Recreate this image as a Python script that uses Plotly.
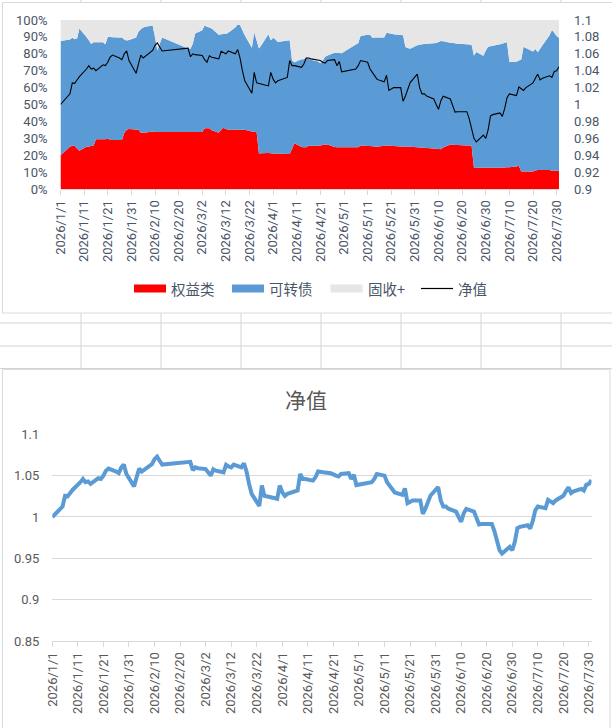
import plotly.graph_objects as go
import pandas as pd

W, H = 612, 728

dates = [
    "2026-01-01", "2026-01-05", "2026-01-06", "2026-01-07", "2026-01-08", "2026-01-09",
    "2026-01-12", "2026-01-13", "2026-01-14", "2026-01-15", "2026-01-16",
    "2026-01-19", "2026-01-20", "2026-01-21", "2026-01-22", "2026-01-23",
    "2026-01-26", "2026-01-27", "2026-01-28", "2026-01-29", "2026-01-30",
    "2026-02-02", "2026-02-03", "2026-02-04", "2026-02-05", "2026-02-06",
    "2026-02-09", "2026-02-10", "2026-02-11", "2026-02-12", "2026-02-13",
    "2026-02-24", "2026-02-25", "2026-02-26", "2026-02-27",
    "2026-03-02", "2026-03-03", "2026-03-04", "2026-03-05", "2026-03-06",
    "2026-03-09", "2026-03-10", "2026-03-11", "2026-03-12", "2026-03-13",
    "2026-03-16", "2026-03-17", "2026-03-18", "2026-03-19", "2026-03-20",
    "2026-03-23", "2026-03-24", "2026-03-25", "2026-03-26", "2026-03-27",
    "2026-03-30", "2026-03-31", "2026-04-01", "2026-04-02", "2026-04-03",
    "2026-04-07", "2026-04-08", "2026-04-09", "2026-04-10",
    "2026-04-13", "2026-04-14", "2026-04-15", "2026-04-16", "2026-04-17",
    "2026-04-20", "2026-04-21", "2026-04-22", "2026-04-23", "2026-04-24",
    "2026-04-27", "2026-04-28", "2026-04-29", "2026-04-30",
    "2026-05-06", "2026-05-07", "2026-05-08",
    "2026-05-11", "2026-05-12", "2026-05-13", "2026-05-14", "2026-05-15",
    "2026-05-18", "2026-05-19", "2026-05-20", "2026-05-21", "2026-05-22",
    "2026-05-25", "2026-05-26", "2026-05-27", "2026-05-28", "2026-05-29",
    "2026-06-01", "2026-06-02", "2026-06-03", "2026-06-04", "2026-06-05",
    "2026-06-08", "2026-06-09", "2026-06-10", "2026-06-11", "2026-06-12",
    "2026-06-15", "2026-06-16", "2026-06-17", "2026-06-18",
    "2026-06-22", "2026-06-23", "2026-06-24", "2026-06-25", "2026-06-26",
    "2026-06-29", "2026-06-30", "2026-07-01", "2026-07-02", "2026-07-03",
    "2026-07-06", "2026-07-07", "2026-07-08", "2026-07-09", "2026-07-10",
    "2026-07-13", "2026-07-14", "2026-07-15", "2026-07-16", "2026-07-17",
    "2026-07-20", "2026-07-21", "2026-07-22", "2026-07-23", "2026-07-24",
    "2026-07-27", "2026-07-28", "2026-07-29", "2026-07-30", "2026-07-31",
]

nav = [
    1.000, 1.0126, 1.0256, 1.025, 1.029, 1.033,
    1.042, 1.046, 1.042, 1.043, 1.040,
    1.047, 1.046, 1.050, 1.056, 1.0585,
    1.055, 1.053, 1.060, 1.0634, 1.052,
    1.037, 1.048, 1.0585, 1.055, 1.057,
    1.064, 1.070, 1.073, 1.068, 1.0634,
    1.0667, 1.0565, 1.060, 1.059,
    1.058, 1.053, 1.050, 1.0577, 1.056,
    1.054, 1.063, 1.061, 1.060, 1.0634,
    1.060, 1.065, 1.055, 1.040, 1.028,
    1.0134, 1.038, 1.0256, 1.025, 1.024,
    1.022, 1.038, 1.030, 1.0256, 1.028,
    1.032, 1.052, 1.046, 1.046,
    1.044, 1.048, 1.055, 1.055, 1.054,
    1.0528, 1.052, 1.050, 1.049, 1.052,
    1.053, 1.046, 1.051, 1.0386,
    1.042, 1.046, 1.052,
    1.050, 1.042, 1.038, 1.033, 1.0297,
    1.0268, 1.0346, 1.0167, 1.018, 1.020,
    1.020, 1.0037, 1.010, 1.018, 1.026,
    1.036, 1.020, 1.0126, 1.0126, 1.010,
    1.0065, 1.000, 0.9943, 1.0045, 1.0098,
    1.0065, 0.998, 0.991, 0.9915,
    0.9915, 0.983, 0.970, 0.960, 0.9557,
    0.9638, 0.9598, 0.970, 0.9866, 0.988,
    0.990, 0.986, 0.995, 1.008, 1.0126,
    1.0106, 1.0207, 1.019, 1.0167, 1.020,
    1.0256, 1.031, 1.036, 1.029, 1.031,
    1.034, 1.032, 1.039, 1.040, 1.0447,
]

equity = [
    20, 25, 25.6, 25.4, 24, 22.7,
    25, 25.2, 25.4, 25.6, 29.4,
    29.4, 29.4, 30, 29, 29,
    29, 29, 33.3, 35, 35.5,
    35.2, 35, 33.3, 33.3, 33.4,
    34, 33.8, 33.7, 33.7, 33.7,
    33.7, 33.7, 33.7, 33.7,
    33.7, 36, 36, 36, 34.8,
    33.3, 35, 36.3, 35.5, 35,
    35, 35, 35, 35, 35,
    34, 33.8, 33.7, 21, 21.1,
    21.3, 21.2, 21, 21, 21,
    20.7, 20.7, 23.7, 27,
    24.8, 24.7, 24.7, 25.6, 25.6,
    25.6, 25.8, 26, 26.3, 26.4,
    24.8, 24.7, 24.7, 24.7,
    24.7, 24.7, 25.8,
    25.5, 25.4, 25.3, 25.1, 25,
    25.6, 25.8, 25.7, 25.6, 25.5,
    25.2, 25.1, 25.1, 25, 25,
    24.7, 24.6, 24.5, 24.4, 24.3,
    24, 23.8, 23.7, 23.5, 24.5,
    26.4, 26.3, 26.1, 26,
    25.8, 25.7, 25.6, 12.6, 12.6,
    12.6, 12.6, 12.6, 12.6, 12.6,
    12.6, 12.7, 12.7, 12.8, 12.8,
    13.3, 13.8, 10.3, 10.3, 10.3,
    10.3, 11, 11.2, 11.2, 11.2,
    11.2, 10.8, 10.8, 10.8, 10.8,
]

conv_bond = [
    67.6, 63.5, 63.9, 63.2, 65, 72.3,
    65, 62.8, 60.4, 61.2, 57.4,
    57.4, 56.2, 60, 61, 60.8,
    60.7, 60.7, 55.2, 52.8, 52.7,
    54.5, 58, 61.2, 62.2, 62.6,
    62.8, 56.2, 48.3, 52.3, 56,
    49.5, 49.3, 52.3, 58.3,
    60.3, 60.8, 60, 59.5, 60.2,
    58, 56.5, 55.4, 56.2, 57.5,
    60.5, 62.4, 62, 59, 56,
    49.6, 58.9, 54.3, 62.2, 63.9,
    70.2, 66.8, 68.5, 67.5, 66,
    67.1, 67.3, 52.3, 48,
    52, 52.1, 53.3, 51.4, 50.9,
    49.9, 48.6, 50, 52, 52.6,
    55.8, 55.8, 55.7, 55.6,
    60.8, 61.6, 64.7,
    65.7, 65.9, 64.2, 64.5, 64.6,
    64.1, 66.7, 66.5, 66.2, 66,
    65.9, 65.9, 58.9, 58.5, 58,
    60.3, 60.8, 61.1, 61.4, 61.7,
    62.3, 62.6, 63.3, 64.1, 62.9,
    60.1, 60.1, 60.1, 60,
    59.9, 59.8, 59.8, 66.4, 68.4,
    66.3, 69.4, 71.6, 71.9, 72.2,
    73, 73.3, 73.8, 74, 62.5,
    62, 62.2, 66.4, 73.9, 73.1,
    71, 71.8, 69.7, 71.8, 73.8,
    79.8, 83.3, 81.7, 79.7, 78.7,
]

fixed_plus = [
    12.4, 11.5, 10.5, 11.4, 11, 5,
    10, 12, 14.2, 13.2, 13.2,
    13.2, 14.4, 10, 10, 10.2,
    10.3, 10.3, 11.5, 12.2, 11.8,
    10.3, 7, 5.5, 4.5, 4,
    3.2, 10, 18, 14, 10.3,
    16.8, 17, 14, 8,
    6, 3.2, 4, 4.5, 5,
    8.7, 8.5, 8.3, 8.3, 7.5,
    4.5, 2.6, 3, 6, 9,
    16.4, 7.3, 12, 16.8, 15,
    8.5, 12, 10.5, 11.5, 13,
    12.2, 12, 24, 25,
    23.2, 23.2, 22, 23, 23.5,
    24.5, 25.6, 24, 21.7, 21,
    19.4, 19.5, 19.6, 19.7,
    14.5, 13.7, 9.5,
    8.8, 8.7, 10.5, 10.4, 10.4,
    10.3, 7.5, 7.8, 8.2, 8.5,
    8.9, 9, 16, 16.5, 17,
    15, 14.6, 14.4, 14.2, 14,
    13.7, 13.6, 13, 12.4, 12.6,
    13.5, 13.6, 13.8, 14,
    14.3, 14.5, 14.6, 21, 19,
    21.1, 18, 15.8, 15.5, 15.2,
    14.4, 14, 13.5, 13.2, 24.7,
    24.7, 24, 23.3, 15.8, 16.6,
    18.7, 17.2, 19.1, 17, 15,
    9, 5.9, 7.5, 9.5, 10.5,
]

assert len(dates) == len(nav) == len(equity) == len(conv_bond) == len(fixed_plus)

series_names = ["权益类", "可转债", "固收+", "净值"]
series_colors = ["#FF0000", "#5B9BD5", "#E7E6E6", "#000000"]

date_tick_labels = [
    "2026/1/1", "2026/1/11", "2026/1/21", "2026/1/31", "2026/2/10", "2026/2/20",
    "2026/3/2", "2026/3/12", "2026/3/22", "2026/4/1", "2026/4/11", "2026/4/21",
    "2026/5/1", "2026/5/11", "2026/5/21", "2026/5/31", "2026/6/10", "2026/6/20",
    "2026/6/30", "2026/7/10", "2026/7/20", "2026/7/30",
]
date_tick_vals = [pd.to_datetime(s, format="%Y/%m/%d").strftime("%Y-%m-%d") for s in date_tick_labels]

pct_ticks = [0, 10, 20, 30, 40, 50, 60, 70, 80, 90, 100]
pct_labels = ["0%", "10%", "20%", "30%", "40%", "50%", "60%", "70%", "80%", "90%", "100%"]
nav_ticks_top = [0.9, 0.92, 0.94, 0.96, 0.98, 1.0, 1.02, 1.04, 1.06, 1.08, 1.1]
nav_labels_top = ["0.9", "0.92", "0.94", "0.96", "0.98", "1", "1.02", "1.04", "1.06", "1.08", "1.1"]
nav_ticks_bot = [0.85, 0.9, 0.95, 1.0, 1.05, 1.1]
nav_labels_bot = ["0.85", "0.9", "0.95", "1", "1.05", "1.1"]

CJK = "Noto Sans CJK SC, Noto Sans, sans-serif"
NUM = "Roboto, Noto Sans, sans-serif"
TOP_TXT = "#4A5568"
BOT_TXT = "#595959"
GRID = "#D9D9D9"


def px(x):
    return x / W


def py(y):
    return 1 - y / H


fig = go.Figure()

for vals, name, col in zip([equity, conv_bond, fixed_plus], series_names[:3], series_colors[:3]):
    fig.add_trace(go.Scatter(
        x=dates, y=vals, name=name, stackgroup="alloc", mode="none",
        fillcolor=col, xaxis="x", yaxis="y", showlegend=False,
    ))

fig.add_trace(go.Scatter(
    x=dates, y=nav, name=series_names[3], mode="lines",
    line=dict(color=series_colors[3], width=1.1), xaxis="x", yaxis="y2", showlegend=False,
))

fig.add_trace(go.Scatter(
    x=dates, y=nav, name="净值", mode="lines",
    line=dict(color="#5B9BD5", width=4), xaxis="x2", yaxis="y3", showlegend=False,
))

xrange_ = ["2026-01-01", "2026-07-31"]

fig.update_layout(
    width=W, height=H, autosize=False,
    margin=dict(l=0, r=0, t=0, b=0),
    paper_bgcolor="white", plot_bgcolor="rgba(0,0,0,0)",
    font=dict(family=NUM, size=13, color=TOP_TXT),
    xaxis=dict(
        type="date", domain=[px(60.5), px(559)], range=xrange_, anchor="y",
        tickmode="array", tickvals=date_tick_vals, ticktext=date_tick_labels,
        tickangle=-90, ticks="outside", ticklen=5, tickcolor=GRID,
        showline=True, linecolor=GRID, showgrid=False, zeroline=False,
        tickfont=dict(family=NUM, size=13, color=TOP_TXT), automargin=False,
    ),
    yaxis=dict(
        domain=[py(189), py(20)], range=[0, 100], anchor="x",
        tickmode="array", tickvals=pct_ticks, ticktext=pct_labels,
        showgrid=False, zeroline=False, showline=False, ticks="",
        ticklabelstandoff=12, tickfont=dict(family=NUM, size=13, color=TOP_TXT), automargin=False,
    ),
    yaxis2=dict(
        overlaying="y", side="right", range=[0.9, 1.1], anchor="x",
        tickmode="array", tickvals=nav_ticks_top, ticktext=nav_labels_top,
        showgrid=False, zeroline=False, showline=False, ticks="",
        ticklabelstandoff=14, tickfont=dict(family=NUM, size=13, color=TOP_TXT), automargin=False,
    ),
    xaxis2=dict(
        type="date", domain=[px(52.3), px(591.5)], range=xrange_, anchor="y3",
        tickmode="array", tickvals=date_tick_vals, ticktext=date_tick_labels,
        tickangle=-90, ticks="outside", ticklen=5, tickcolor=GRID,
        showline=True, linecolor=GRID, showgrid=False, zeroline=False,
        tickfont=dict(family=NUM, size=13, color=BOT_TXT), automargin=False,
    ),
    yaxis3=dict(
        domain=[py(641), py(434.3)], range=[0.85, 1.1], anchor="x2",
        tickmode="array", tickvals=nav_ticks_bot, ticktext=nav_labels_bot,
        showgrid=True, gridcolor=GRID, gridwidth=1, zeroline=False, showline=False, ticks="",
        ticklabelstandoff=12, tickfont=dict(family=NUM, size=13, color=BOT_TXT), automargin=False,
    ),
)

shapes = []
# spreadsheet cell grid between the two charts
for yy in [323, 346, 368.5]:
    shapes.append(dict(type="line", xref="paper", yref="paper", x0=0, x1=1, y0=py(yy), y1=py(yy),
                       line=dict(color="#D4D4D4", width=1), layer="below"))
for xx in [81, 161, 241, 321, 401, 481, 561]:
    shapes.append(dict(type="line", xref="paper", yref="paper", x0=px(xx), x1=px(xx), y0=py(313), y1=py(369),
                       line=dict(color="#D4D4D4", width=1), layer="below"))
    shapes.append(dict(type="line", xref="paper", yref="paper", x0=px(xx), x1=px(xx), y0=py(0), y1=py(2.5),
                       line=dict(color="#D4D4D4", width=1), layer="below"))
# chart frames
shapes.append(dict(type="rect", xref="paper", yref="paper", x0=px(2.5), x1=px(614), y0=py(313), y1=py(2.5),
                   line=dict(color="#D9D9D9", width=1), fillcolor="rgba(0,0,0,0)", layer="below"))
shapes.append(dict(type="rect", xref="paper", yref="paper", x0=px(2.5), x1=px(610), y0=py(730), y1=py(369.5),
                   line=dict(color="#D9D9D9", width=1), fillcolor="rgba(0,0,0,0)", layer="below"))

# legend (top chart)
legend_x = [134, 232, 330.5, 421]
annotations = []
for i, (name, col) in enumerate(zip(series_names, series_colors)):
    x0 = legend_x[i]
    if i < 3:
        shapes.append(dict(type="rect", xref="paper", yref="paper", x0=px(x0), x1=px(x0 + 32),
                           y0=py(292.5), y1=py(284.5), fillcolor=col, line=dict(width=0)))
    else:
        shapes.append(dict(type="line", xref="paper", yref="paper", x0=px(x0), x1=px(x0 + 32),
                           y0=py(288.5), y1=py(288.5), line=dict(color=col, width=1.2)))
    annotations.append(dict(xref="paper", yref="paper", x=px(x0 + 35), y=py(288.5), text=name,
                            showarrow=False, xanchor="left", yanchor="middle",
                            font=dict(family=CJK, size=14.5, color=TOP_TXT)))

annotations.append(dict(xref="paper", yref="paper", x=px(305.5), y=py(399), text="净值",
                        showarrow=False, xanchor="center", yanchor="middle",
                        font=dict(family=CJK, size=21, color=BOT_TXT)))

fig.update_layout(shapes=shapes, annotations=annotations)

fig.write_html(
    "out.html",
    config={"displayModeBar": False},
    post_script="document.body.style.margin='0px';document.body.style.padding='0px';document.body.style.overflow='hidden';",
)
